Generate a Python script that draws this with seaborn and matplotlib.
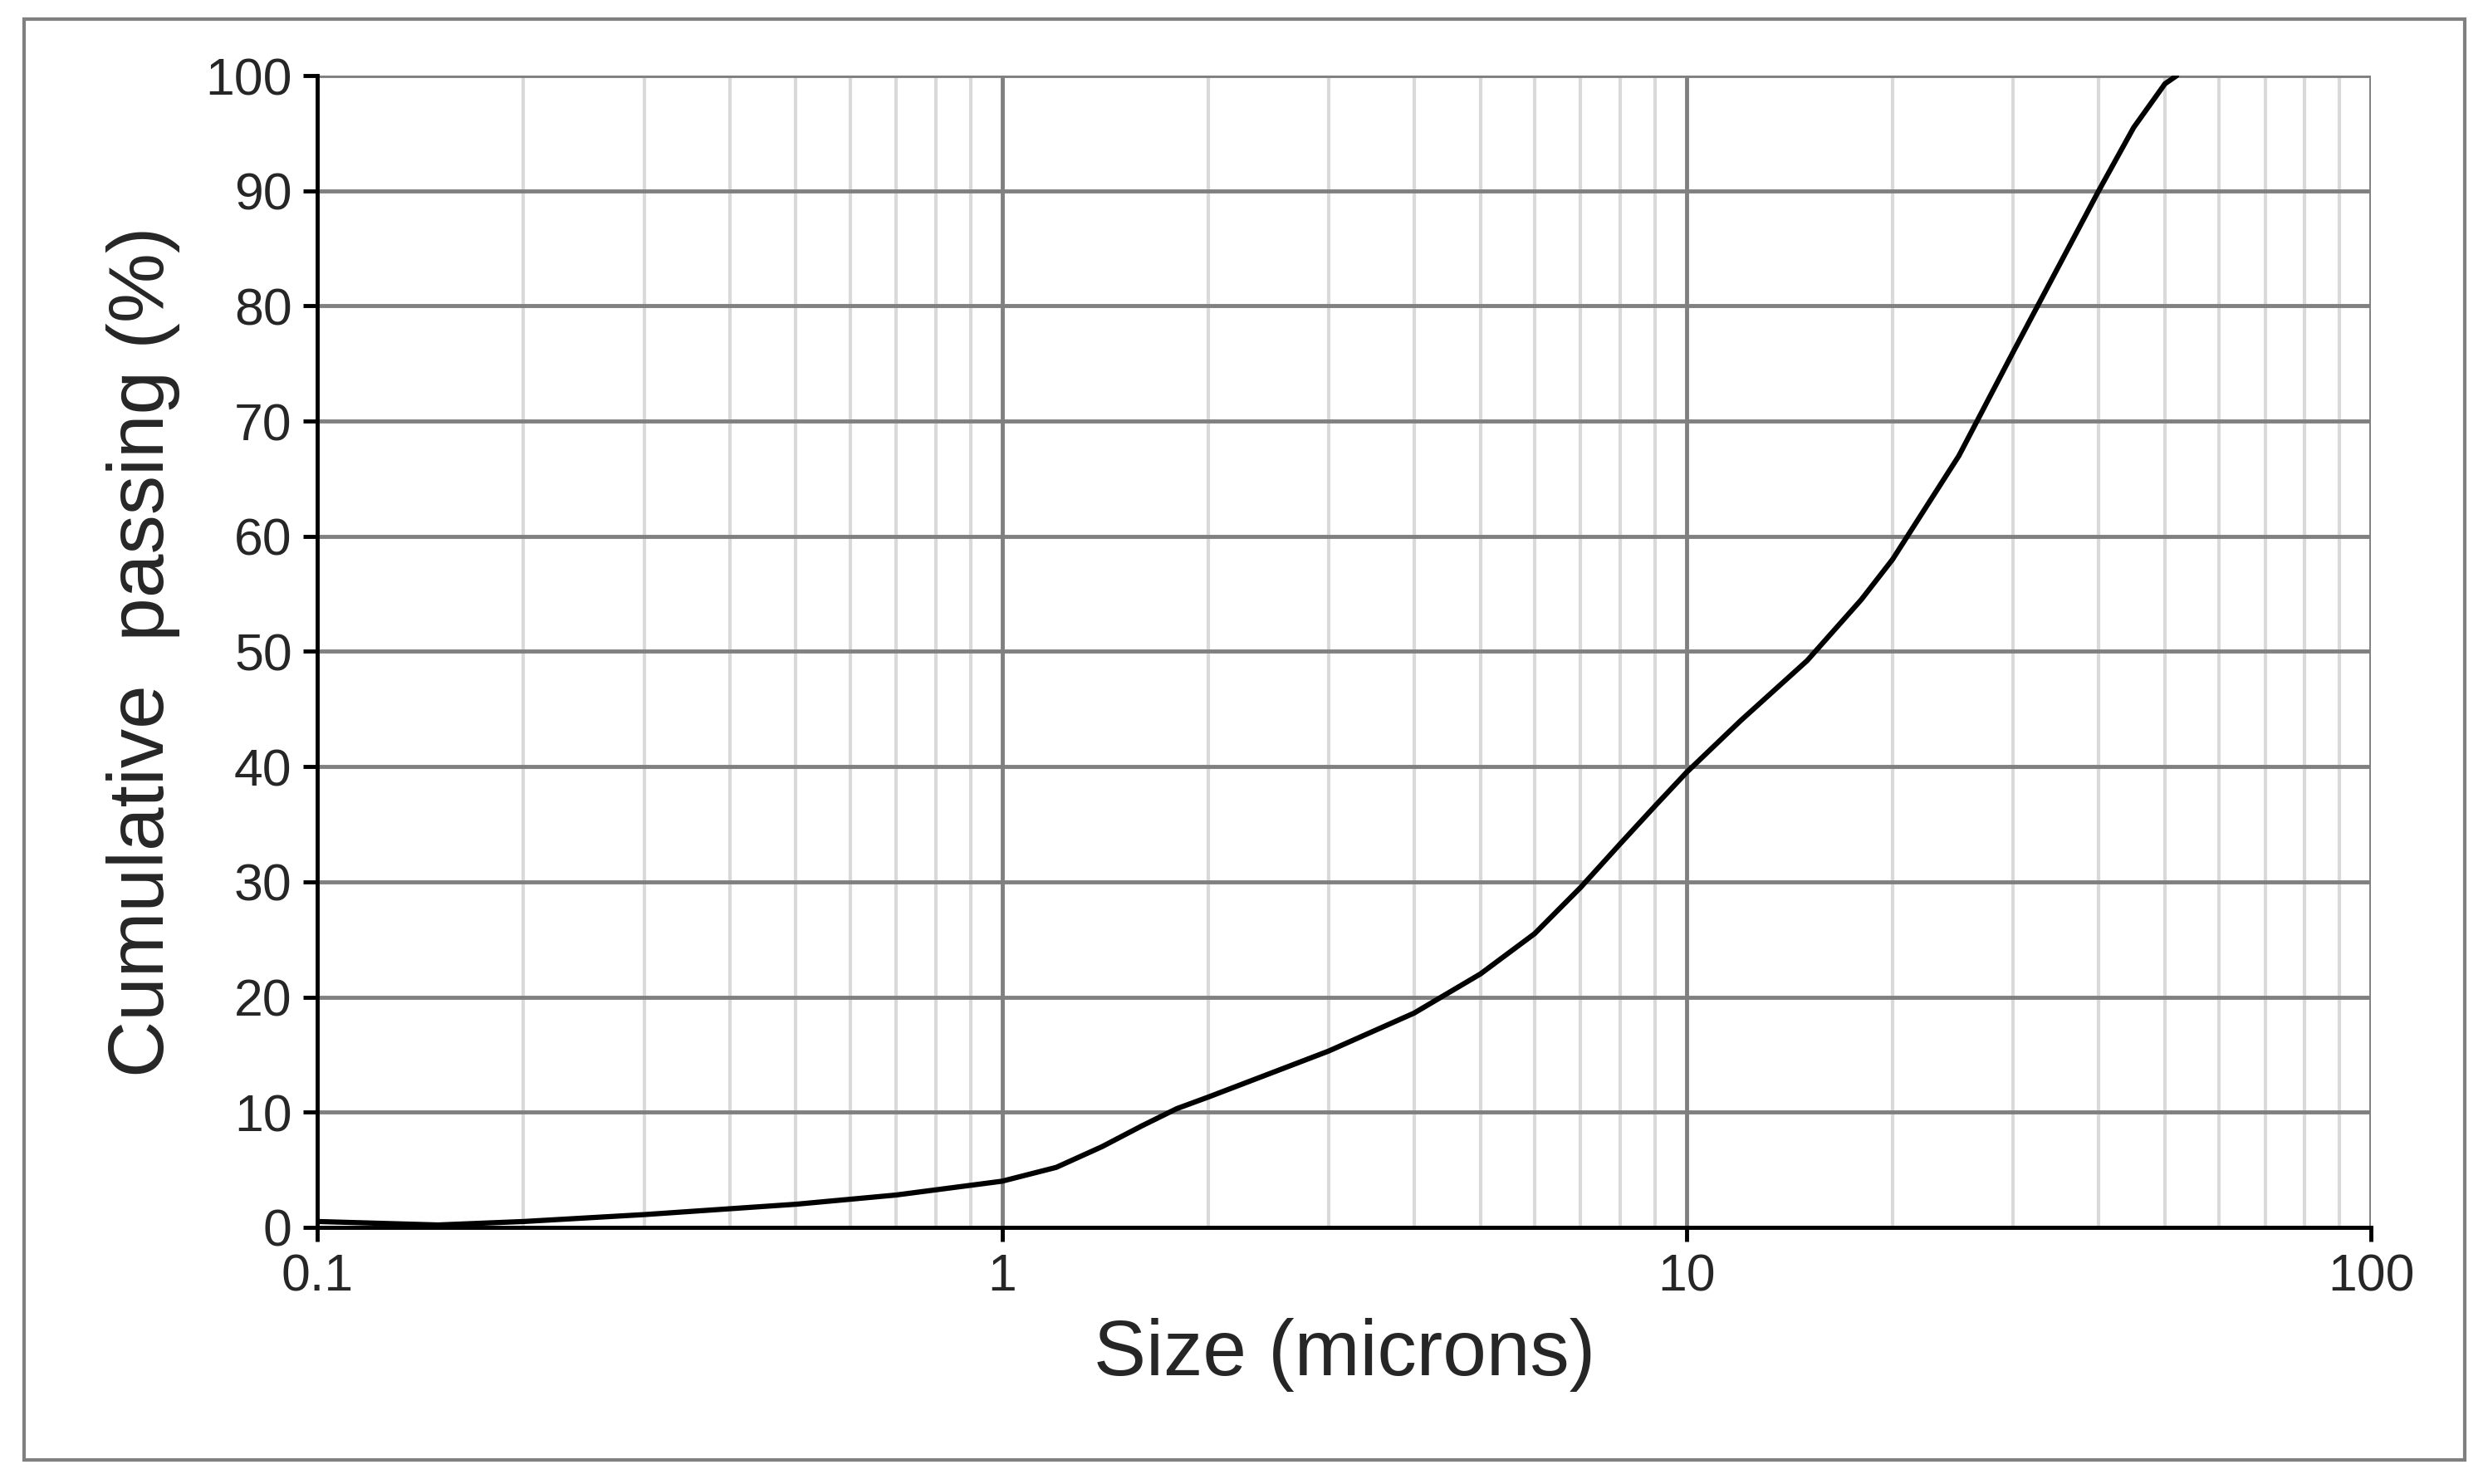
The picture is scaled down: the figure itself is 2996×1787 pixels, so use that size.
import numpy as np
import seaborn as sns
import matplotlib.pyplot as plt
from matplotlib.ticker import LogLocator, FixedLocator, NullFormatter
from matplotlib.patches import Rectangle

# values
size_um = [0.1, 0.15, 0.2, 0.3, 0.5, 0.7, 1.0, 1.2, 1.4, 1.6, 1.8, 2.0, 2.5, 3.0, 4.0, 5.0,
           6.0, 7.0, 8.0, 9.0, 10.0, 12.0, 15.0, 18.0, 20.0, 25.0, 30.0, 35.0, 40.0, 45.0, 50.0, 52.0]
passing = [0.5, 0.2, 0.5, 1.1, 2.0, 2.8, 4.0, 5.2, 7.0, 8.8, 10.3, 11.3, 13.5, 15.3, 18.6, 22.0,
           25.5, 29.5, 33.3, 36.6, 39.5, 44.0, 49.2, 54.5, 58.0, 67.0, 76.0, 83.5, 90.0, 95.5, 99.3, 100.0]
x_ticks = [0.1, 1, 10, 100]
x_labels = ["0.1", "1", "10", "100"]

sns.set_style("white")
plt.rcParams['font.family'] = ['Liberation Sans', 'DejaVu Sans']

fig = plt.figure(figsize=(29.96, 17.87), dpi=100)
ax = fig.add_axes([0.1276, 0.173, 0.8254, 0.776])

sns.lineplot(x=size_um, y=passing, ax=ax, color="black", linewidth=4.5, sort=False, zorder=5)

ax.set_xscale("log")
ax.set_xlim(0.1, 100)
ax.set_ylim(0, 100)
ax.xaxis.set_major_locator(FixedLocator(x_ticks))
ax.set_xticklabels(x_labels)
ax.xaxis.set_minor_locator(LogLocator(base=10, subs=np.arange(2, 10)))
ax.xaxis.set_minor_formatter(NullFormatter())
ax.set_yticks(np.arange(0, 101, 10))

ax.grid(which="minor", axis="x", color="#d9d9d9", linewidth=3)
ax.grid(which="major", axis="x", color="#808080", linewidth=3.5)
ax.grid(which="major", axis="y", color="#808080", linewidth=3.5)
ax.set_axisbelow(True)

for s in ["top", "right"]:
    ax.spines[s].set_visible(False)
for s in ["left", "bottom"]:
    ax.spines[s].set_color("black")
    ax.spines[s].set_linewidth(3.5)
    ax.spines[s].set_zorder(6)

ax.tick_params(axis="both", which="major", labelsize=45, length=12, width=3.5,
               direction="out", color="black", bottom=True, left=True, pad=10)
ax.tick_params(axis="x", which="minor", length=0)

ax.set_xlabel("Size (microns)", fontsize=68, labelpad=14)
ax.set_ylabel("Cumulative  passing (%)", fontsize=68, labelpad=22)

fig.patches.append(Rectangle((0.0096, 0.016), 0.981, 0.971, transform=fig.transFigure,
                             fill=False, edgecolor="#808080", linewidth=3))

fig.savefig("out.png", dpi=100)
